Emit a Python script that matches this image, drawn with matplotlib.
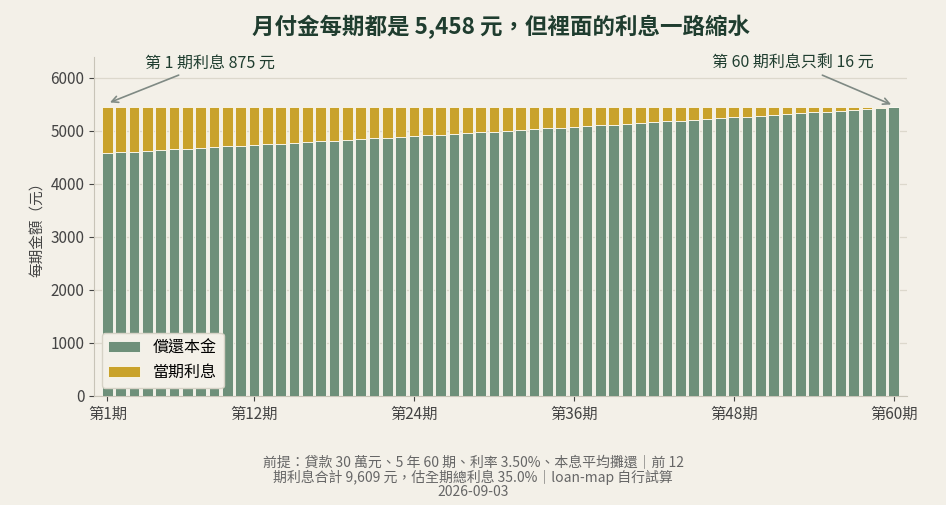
import matplotlib
matplotlib.use("Agg")
import matplotlib.pyplot as plt

plt.rcParams['font.family'] = ['Noto Sans CJK TC', 'DejaVu Sans']

# 本息平均攤還：30 萬、60 期、3.50%
payment = 5458
periods = list(range(1, 61))
interest = [875, 862, 848, 835, 821, 808, 794, 781, 767, 753,
            740, 726, 712, 698, 684, 670, 656, 642, 628, 614,
            600, 586, 572, 557, 543, 529, 514, 500, 486, 471,
            457, 442, 427, 413, 398, 383, 368, 354, 339, 324,
            309, 294, 279, 264, 248, 233, 218, 203, 187, 172,
            157, 141, 126, 110, 95, 79, 63, 47, 32, 16]
principal = [payment - i for i in interest]
tick_periods = [1, 12, 24, 36, 48, 60]
tick_labels = [f'第{p}期' for p in tick_periods]

BG = '#f3f0e8'
GREEN = '#6e907a'
GOLD = '#c9a22b'
DARK = '#1f3d2f'

fig = plt.figure(figsize=(9.46, 5.05), dpi=100, facecolor=BG)
ax = fig.add_axes([0.0994, 0.2164, 0.8594, 0.6713])
ax.set_facecolor(BG)

ax.bar(periods, principal, width=0.8, color=GREEN, edgecolor='#fcfaf2',
       linewidth=0.6, label='償還本金', zorder=3)
ax.bar(periods, interest, width=0.8, bottom=principal, color=GOLD,
       edgecolor='#fcfaf2', linewidth=0.6, label='當期利息', zorder=3)

ax.set_xlim(0, 61)
ax.set_ylim(0, 6400)
ax.set_xticks(tick_periods)
ax.set_xticklabels(tick_labels)
ax.set_yticks([0, 1000, 2000, 3000, 4000, 5000, 6000])
ax.tick_params(colors='#444444', labelsize=11)
ax.grid(axis='y', color='#dcd8cc', linewidth=0.9, zorder=0)
for s in ['top', 'right']:
    ax.spines[s].set_visible(False)
for s in ['left', 'bottom']:
    ax.spines[s].set_color('#c8c4b8')
ax.set_ylabel('每期金額（元）', fontsize=10.5, color='#444444')

ax.set_title('月付金每期都是 5,458 元，但裡面的利息一路縮水',
             fontsize=16.2, fontweight='bold', color=DARK, pad=16)

arrow = dict(arrowstyle='->', color='#7f8a84', lw=1.2)
ax.annotate(f'第 1 期利息 {interest[0]} 元', xy=(periods[0], payment + 60),
            xytext=(periods[0] + 2.8, 6200), fontsize=11.5, color=DARK,
            arrowprops=arrow)
ax.annotate(f'第 60 期利息只剩 {interest[-1]} 元', xy=(periods[-1], payment + 20),
            xytext=(periods[-1] - 13.6, 6200), fontsize=11.5, color=DARK,
            arrowprops=arrow)

leg = ax.legend(loc='lower left', fontsize=11.5, frameon=True, facecolor=BG,
                edgecolor='#d6d2c6', framealpha=1, borderaxespad=0.5)
leg.set_zorder(5)

fig.text(0.5, 0.055,
         '前提：貸款 30 萬元、5 年 60 期、利率 3.50%、本息平均攤還｜前 12\n'
         '期利息合計 9,609 元，估全期總利息 35.0%｜loan-map 自行試算\n'
         '2026-09-03',
         ha='center', va='center', fontsize=10, color='#666666', linespacing=1.0)

fig.savefig('out.png', dpi=100, facecolor=BG)
